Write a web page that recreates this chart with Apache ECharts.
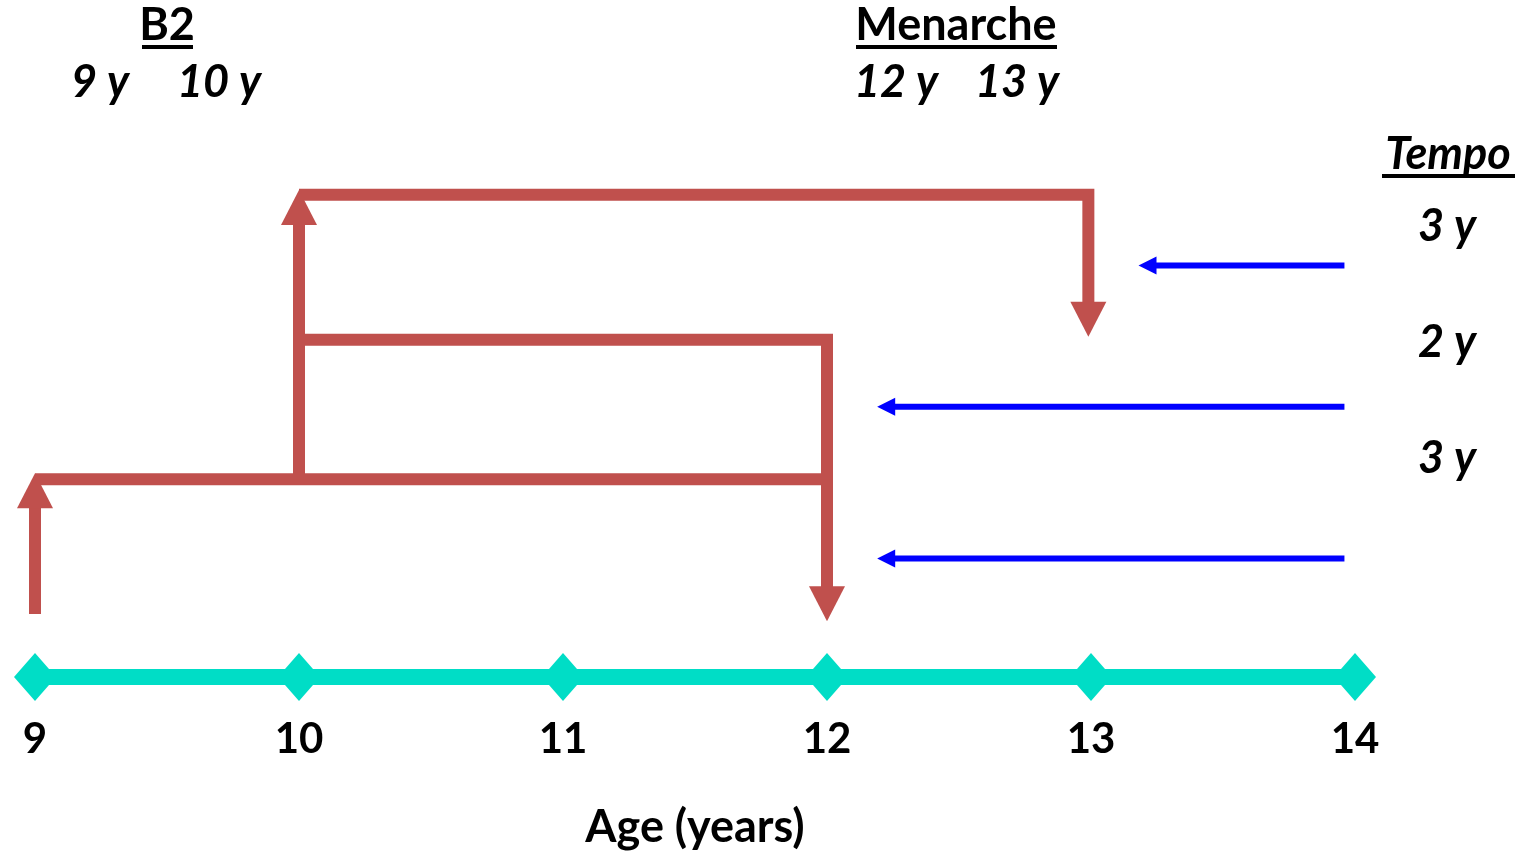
<!DOCTYPE html>
<html>
<head>
<meta charset="utf-8">
<script src="https://cdn.jsdelivr.net/npm/echarts@6/dist/echarts.min.js"></script>
<style>
  html, body { margin: 0; padding: 0; background: #fff; }
  #chart { width: 1527px; height: 855px; }
</style>
</head>
<body>
<div id="chart"></div>
<script>
// age axis
const ages = [9, 10, 11, 12, 13, 14];
const axisPoints = ages.map(a => [a, 0]);

// red timing paths (x = age, y = diagram level)
const riseAt9 = [[9, 10.5], [9, 34]];
const b2at9ToMenarche12 = [[9, 33], [12, 33], [12, 9.3]];
const riseAt10 = [[10, 33], [10, 81.3]];
const b2at10ToMenarche13 = [[10, 80.5], [12.99, 80.5], [12.99, 56.8]];
const b2at10ToMenarche12 = [[10, 56.3], [12, 56.3], [12, 33]];

// blue tempo arrows
const tempo3yTop = [[13.96, 68.7], [13.18, 68.7]];
const tempo2y = [[13.96, 45.1], [12.19, 45.1]];
const tempo3yBottom = [[13.96, 19.8], [12.19, 19.8]];

const RED = '#c0504d';
const BLUE = '#0000ff';
const TEAL = '#00ddc6';

function pathSeries(path, color, width, head) {
  return {
    type: 'custom',
    coordinateSystem: 'cartesian2d',
    clip: false,
    silent: true,
    data: path,
    encode: { x: 0, y: 1 },
    renderItem: function (params, api) {
      if (params.dataIndex !== 0) return;
      let pts = path.map(p => api.coord(p));
      const children = [];
      if (head) {
        const n = pts.length;
        const tip = pts[n - 1], prev = pts[n - 2];
        const dx = tip[0] - prev[0], dy = tip[1] - prev[1];
        const len = Math.sqrt(dx * dx + dy * dy);
        const ux = dx / len, uy = dy / len;
        const bx = tip[0] - ux * head.len, by = tip[1] - uy * head.len;
        const px = -uy * head.w / 2, py = ux * head.w / 2;
        pts = pts.slice(0, n - 1).concat([[bx + ux * 2, by + uy * 2]]);
        children.push({
          type: 'polygon',
          shape: { points: [tip, [bx + px, by + py], [bx - px, by - py]] },
          style: { fill: color }
        });
      }
      children.unshift({
        type: 'polyline',
        shape: { points: pts },
        style: { stroke: color, lineWidth: width, fill: null, lineJoin: 'miter', lineCap: 'butt' }
      });
      return { type: 'group', children: children };
    }
  };
}

const redHead = { len: 35, w: 36 };
const blueHead = { len: 18, w: 18 };

const chart = echarts.init(document.getElementById('chart'));

const textFont = 'Lato';
function label(text, x, y, italic, size) {
  return {
    type: 'text', x: x, y: y, silent: true,
    style: {
      text: text, fill: '#000',
      font: (italic ? 'italic ' : '') + 'bold ' + (size || 45) + 'px ' + textFont,
      textAlign: 'center', textVerticalAlign: 'middle'
    }
  };
}
function underline(x1, x2, y) {
  return {
    type: 'line', silent: true,
    shape: { x1: x1, y1: y, x2: x2, y2: y },
    style: { stroke: '#000', lineWidth: 4 }
  };
}

const option = {
  animation: false,
  backgroundColor: '#fff',
  grid: { left: 35, right: 172, top: 78, bottom: 177 },
  xAxis: {
    type: 'value', min: 9, max: 14, interval: 1,
    axisLine: { show: false }, axisTick: { show: false }, splitLine: { show: false },
    axisLabel: { margin: 41, color: '#000', fontFamily: textFont, fontWeight: 'bold', fontSize: 42 },
    name: 'Age (years)', nameLocation: 'middle', nameGap: 128,
    nameTextStyle: { color: '#000', fontFamily: textFont, fontWeight: 'bold', fontSize: 45 }
  },
  yAxis: { type: 'value', min: 0, max: 100, show: false },
  graphic: [
    label('B2', 167, 25, false),
    underline(142, 193, 47),
    label('9 y', 100, 82, true),
    label('10 y', 219, 82, true),
    label('Menarche', 956, 25, false),
    underline(856, 1057, 47),
    label('12 y', 896, 82, true),
    label('13 y', 1017, 82, true),
    label('Tempo', 1448, 154, true),
    underline(1382, 1515, 176),
    label('3 y', 1447, 226, true),
    label('2 y', 1447, 342, true),
    label('3 y', 1447, 458, true)
  ],
  series: [
    {
      type: 'line', data: axisPoints, clip: false, silent: true,
      lineStyle: { color: TEAL, width: 16 },
      itemStyle: { color: TEAL },
      symbol: 'diamond', symbolSize: [42, 48], showAllSymbol: true
    },
    pathSeries(riseAt9, RED, 12, redHead),
    pathSeries(b2at9ToMenarche12, RED, 12, redHead),
    pathSeries(riseAt10, RED, 12, redHead),
    pathSeries(b2at10ToMenarche13, RED, 12, redHead),
    pathSeries(b2at10ToMenarche12, RED, 12, null),
    pathSeries(tempo3yTop, BLUE, 6, blueHead),
    pathSeries(tempo2y, BLUE, 6, blueHead),
    pathSeries(tempo3yBottom, BLUE, 6, blueHead)
  ]
};

chart.setOption(option);
</script>
</body>
</html>
